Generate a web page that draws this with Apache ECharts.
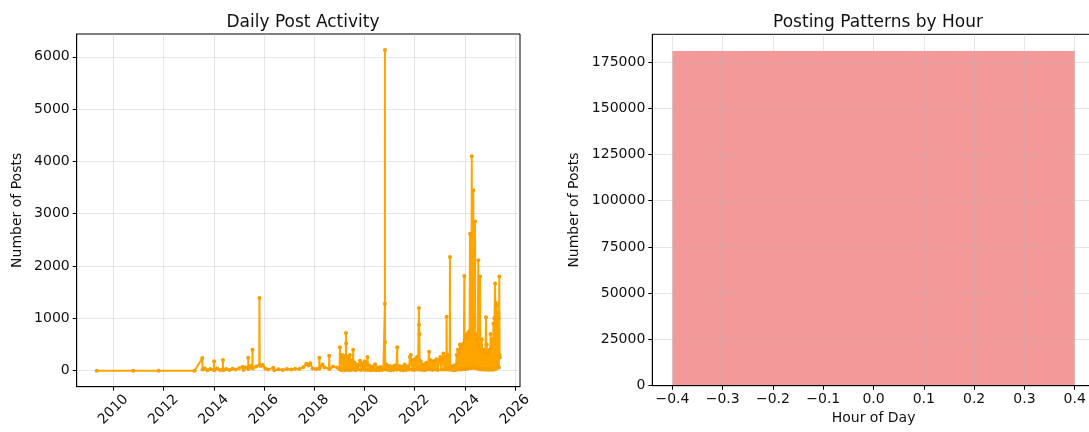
<!DOCTYPE html>
<html>
<head>
<meta charset="utf-8">
<script src="https://cdn.jsdelivr.net/npm/echarts@6/dist/echarts.min.js"></script>
<style>
html,body{margin:0;padding:0;background:#fff;}
#chart{width:1089px;height:432px;}
</style>
</head>
<body>
<div id="chart"></div>
<script>
// ---------- DATA ----------
const leftTitle = 'Daily Post Activity';
const rightTitle = 'Posting Patterns by Hour';
const yName = 'Number of Posts';
const hourAxisName = 'Hour of Day';

const yearTicks = [2010, 2012, 2014, 2016, 2018, 2020, 2022, 2024, 2026];
const postTicks = [0, 1000, 2000, 3000, 4000, 5000, 6000];
const hourTicks = [-0.4, -0.3, -0.2, -0.1, 0.0, 0.1, 0.2, 0.3, 0.4];
const countTicks = [0, 25000, 50000, 75000, 100000, 125000, 150000, 175000];

const posts2009to2018 = [
['2009-05-05',0],['2010-10-18',0],['2011-10-20',0],['2013-03-28',0],['2013-07-18',240],['2013-07-22',20],
['2013-08-25',40],['2013-10-01',10],['2013-11-10',30],['2014-01-02',15],['2014-01-05',180],['2014-01-09',10],['2014-02-20',40],
['2014-04-01',15],['2014-05-12',20],['2014-05-15',205],['2014-05-19',10],['2014-07-01',30],['2014-08-20',15],['2014-10-01',35],
['2014-11-15',20],['2015-01-05',45],['2015-02-25',77],['2015-03-10',15],['2015-04-10',60],['2015-05-15',40],['2015-05-18',245],
['2015-05-22',30],['2015-06-20',90],['2015-07-15',50],['2015-07-18',400],['2015-07-22',40],['2015-09-10',80],['2015-10-24',100],['2015-10-27',1390],
['2015-10-31',110],['2015-11-20',90],['2015-12-15',110],['2016-01-20',40],['2016-03-01',20],['2016-05-15',55],
['2016-06-01',10],['2016-08-01',25],['2016-10-01',15],['2016-12-01',30],['2017-02-01',20],['2017-04-01',35],
['2017-06-01',30],['2017-08-01',70],['2017-09-10',130],['2017-10-10',100],['2017-11-05',140],['2017-12-10',40],
['2018-02-01',30],['2018-03-15',40],['2018-03-18',245],['2018-03-22',40],['2018-05-01',120],['2018-06-01',60],['2018-08-05',40],['2018-08-08',285],
['2018-08-12',30],['2018-10-01',80],['2018-12-01',60]
];

const posts2019to2023 = [
['2019-01-05',30],['2019-01-10',450],['2019-01-15',20],['2019-01-25',260],['2019-02-04',15],['2019-02-14',300],
['2019-02-24',20],['2019-03-06',240],['2019-03-16',10],['2019-03-26',280],['2019-04-05',20],['2019-04-08',720],
['2019-04-11',520],['2019-04-14',30],['2019-04-24',260],['2019-05-04',15],['2019-05-14',230],['2019-05-24',20],
['2019-06-03',300],['2019-06-13',15],['2019-06-23',200],['2019-07-03',20],['2019-07-13',180],['2019-07-19',30],['2019-07-22',400],
['2019-07-26',20],['2019-08-10',150],['2019-08-25',10],['2019-09-10',120],['2019-09-25',20],['2019-10-10',100],
['2019-10-30',190],['2019-11-10',15],['2019-11-30',140],['2019-12-15',20],['2020-01-05',180],['2020-01-20',15],
['2020-02-05',120],['2020-02-15',260],['2020-02-25',15],['2020-03-15',100],['2020-04-05',10],['2020-04-25',80],
['2020-05-15',15],['2020-06-05',125],['2020-06-25',10],['2020-07-15',60],['2020-08-05',10],['2020-08-25',70],
['2020-09-15',15],['2020-10-05',60],['2020-10-24',40],['2020-10-26',1280],['2020-10-27',6130],['2020-10-29',550],['2020-11-02',20],
['2020-11-20',120],['2020-12-10',15],['2020-12-30',90],['2021-01-20',10],['2021-02-10',80],['2021-03-01',15],
['2021-03-20',100],['2021-04-10',20],['2021-04-21',30],['2021-04-24',450],['2021-04-28',20],['2021-05-20',90],['2021-06-10',15],
['2021-06-30',80],['2021-07-20',10],['2021-08-10',120],['2021-08-30',15],['2021-09-20',80],['2021-10-10',20],
['2021-10-25',260],['2021-11-07',300],['2021-11-20',20],['2021-12-05',200],['2021-12-20',15],['2022-01-05',220],
['2022-01-20',20],['2022-02-05',260],['2022-02-20',20],['2022-03-02',40],['2022-03-05',1200],['2022-03-08',880],['2022-03-12',700],
['2022-03-16',20],['2022-04-01',180],['2022-04-20',15],['2022-05-10',120],['2022-05-30',10],['2022-06-20',150],
['2022-07-10',20],['2022-07-29',40],['2022-08-01',360],['2022-08-05',20],['2022-08-25',200],['2022-09-15',15],['2022-10-05',180],
['2022-10-25',20],['2022-11-15',220],['2022-12-05',15],['2022-12-25',200],['2023-01-10',260],['2023-01-25',20],
['2023-02-10',220],['2023-02-25',330],['2023-03-10',20],['2023-03-25',260],['2023-04-09',40],['2023-04-12',1030],['2023-04-16',20],
['2023-04-30',300],['2023-05-15',20],['2023-05-27',60],['2023-05-30',2175],['2023-06-03',20],['2023-06-20',80],['2023-07-10',10],
['2023-07-30',100],['2023-08-15',10]
];

const posts2023to2025 = [
['2023-08-30',120],['2023-09-05',300],['2023-09-10',20],['2023-09-20',400],['2023-09-28',30],['2023-10-06',350],
['2023-10-14',20],['2023-10-22',500],['2023-10-30',30],['2023-11-07',420],['2023-11-15',20],['2023-11-23',480],
['2023-12-01',30],['2023-12-09',520],['2023-12-17',40],['2023-12-25',1810],['2023-12-28',30],['2024-01-04',600],
['2024-01-11',40],['2024-01-18',650],['2024-01-25',30],['2024-02-01',700],['2024-02-08',50],['2024-02-15',620],
['2024-02-22',40],['2024-03-01',750],['2024-03-09',50],['2024-03-17',2620],['2024-03-21',60],['2024-03-28',700],
['2024-04-04',50],['2024-04-12',4100],['2024-04-16',60],['2024-04-23',800],['2024-04-28',60],['2024-05-04',3450],
['2024-05-08',60],['2024-05-15',1000],['2024-05-22',60],['2024-05-30',2850],['2024-06-03',50],['2024-06-10',700],
['2024-06-17',50],['2024-06-24',600],['2024-07-01',40],['2024-07-08',500],['2024-07-16',2110],['2024-07-20',40],
['2024-07-27',450],['2024-08-03',30],['2024-08-11',1800],['2024-08-15',30],['2024-08-22',400],['2024-08-29',20],
['2024-09-05',600],['2024-09-12',30],['2024-09-19',350],['2024-09-26',20],['2024-10-03',400],['2024-10-10',30],
['2024-10-17',330],['2024-10-24',20],['2024-11-06',1020],['2024-11-10',20],['2024-11-17',500],['2024-11-24',20],
['2024-12-01',320],['2024-12-08',20],['2024-12-15',380],['2024-12-22',20],['2024-12-29',400],['2025-01-05',20],
['2025-01-11',700],['2025-01-18',20],['2025-01-25',450],['2025-02-01',20],['2025-02-08',600],['2025-02-15',20],
['2025-02-22',900],['2025-03-01',20],['2025-03-08',1000],['2025-03-18',1665],['2025-03-22',30],['2025-03-29',1300],
['2025-04-04',40],['2025-04-10',1250],['2025-04-16',50],['2025-04-22',1100],['2025-04-29',80],['2025-05-06',1000],
['2025-05-12',60],['2025-05-18',1800],['2025-05-22',300],['2025-05-26',250]
];

const hours = [0];
const hourCounts = [180900];

// ---------- CHART ----------
const FONT = 'DejaVu Sans';
const TXT = '#111';
// date string -> fractional year (position on the date axis)
function toYear(s) {
  const [y, m, d] = s.split('-').map(Number);
  const t = Date.UTC(y, m - 1, d), t0 = Date.UTC(y, 0, 1), t1 = Date.UTC(y + 1, 0, 1);
  return y + (t - t0) / (t1 - t0);
}
const dailyPosts = posts2009to2018.concat(posts2019to2023, posts2023to2025).map(p => [toYear(p[0]), p[1]]);
const gridLine = {show: true, lineStyle: {color: 'rgba(176,176,176,0.32)', width: 1}};
const axisLineStyle = {show: true, onZero: false, lineStyle: {color: '#000', width: 1}};
const tickStyle = {show: true, length: 4, lineStyle: {color: '#000', width: 1}};
const lbl = {fontFamily: FONT, fontSize: 14, color: TXT};
const fmtHour = v => (v < 0 ? '\u2212' : '') + Math.abs(v).toFixed(1);
const fmtPlain = v => String(Math.round(v));

const chart = echarts.init(document.getElementById('chart'), null, {renderer: 'canvas'});
chart.setOption({
  animation: false,
  backgroundColor: '#fff',
  title: [
    {text: leftTitle, left: 298, top: 9, textAlign: 'center',
     textStyle: {fontFamily: FONT, fontSize: 17, fontWeight: 'normal', color: TXT}},
    {text: rightTitle, left: 873, top: 9, textAlign: 'center',
     textStyle: {fontFamily: FONT, fontSize: 17, fontWeight: 'normal', color: TXT}}
  ],
  grid: [
    {left: 76.7, top: 34, width: 443.3, height: 352.7, show: true, borderColor: '#000', borderWidth: 1,
     containLabel: false, outerBoundsMode: 'none'},
    {left: 652.3, top: 34.3, width: 442.5, height: 351.4, show: true, borderColor: '#000', borderWidth: 1,
     containLabel: false, outerBoundsMode: 'none'}
  ],
  xAxis: [
    {type: 'value', gridIndex: 0, min: 2008.54, max: 2026.2, scale: true,
     axisLine: axisLineStyle,
     axisTick: Object.assign({customValues: yearTicks}, tickStyle),
     axisLabel: Object.assign({customValues: yearTicks, rotate: 45, align: 'center', verticalAlign: 'middle',
       margin: 23, hideOverlap: false, formatter: fmtPlain}, lbl),
     splitLine: gridLine},
    {type: 'value', gridIndex: 1, min: -0.44, max: 0.44, z: 3,
     name: hourAxisName, nameLocation: 'middle', nameGap: 25,
     nameTextStyle: {fontFamily: FONT, fontSize: 14, color: TXT},
     axisLine: axisLineStyle,
     axisTick: Object.assign({customValues: hourTicks}, tickStyle),
     axisLabel: Object.assign({customValues: hourTicks, margin: 7, formatter: fmtHour}, lbl),
     splitLine: gridLine}
  ],
  yAxis: [
    {type: 'value', gridIndex: 0, min: -306.5, max: 6436.5,
     name: yName, nameLocation: 'middle', nameGap: 52,
     nameTextStyle: {fontFamily: FONT, fontSize: 14, color: TXT},
     axisLine: axisLineStyle,
     axisTick: Object.assign({customValues: postTicks}, tickStyle),
     axisLabel: Object.assign({customValues: postTicks, margin: 7, formatter: fmtPlain}, lbl),
     splitLine: gridLine},
    {type: 'value', gridIndex: 1, min: 0, max: 189945, z: 3,
     name: yName, nameLocation: 'middle', nameGap: 71,
     nameTextStyle: {fontFamily: FONT, fontSize: 14, color: TXT},
     axisLine: axisLineStyle,
     axisTick: Object.assign({customValues: countTicks}, tickStyle),
     axisLabel: Object.assign({customValues: countTicks, margin: 7, formatter: fmtPlain}, lbl),
     splitLine: gridLine}
  ],
  series: [
    {type: 'line', xAxisIndex: 0, yAxisIndex: 0, data: dailyPosts,
     symbol: 'circle', symbolSize: 4, showSymbol: true,
     lineStyle: {color: '#FFA500', width: 2}, itemStyle: {color: '#F5A000'}, z: 2},
    {type: 'custom', xAxisIndex: 1, yAxisIndex: 1, z: 1,
     data: hours.map((h, i) => [h, hourCounts[i]]),
     renderItem: (params, api) => {
       const x = api.value(0), y = api.value(1);
       const p0 = api.coord([x - 0.4, 0]);
       const p1 = api.coord([x + 0.4, y]);
       return {type: 'rect', shape: {x: p0[0], y: p1[1], width: p1[0] - p0[0], height: p0[1] - p1[1]},
               style: {fill: 'rgba(240,128,128,0.8)'}};
     }}
  ]
});
</script>
</body>
</html>
